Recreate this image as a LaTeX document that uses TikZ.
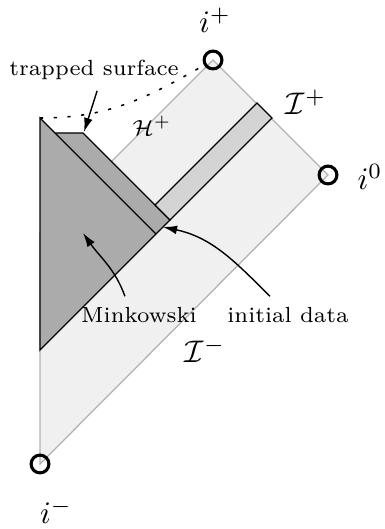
\documentclass[tikz,border=0pt]{standalone}
\usepackage{amsmath,amssymb}
\usepackage{tikz}
\usetikzlibrary{arrows.meta,positioning,backgrounds}

\begin{document}
\begin{tikzpicture}[x=0.32pt,y=0.32pt]
  % Styles for boundary points, regions and pointers
  \tikzset{bpoint/.style={draw=black, circle, line width=1pt, minimum size=5.7pt, inner sep=0pt}}
  \tikzset{exterior/.style={fill=black!6, draw=black!30, line width=0.4pt}}
  \tikzset{minkregion/.style={fill=black!33, draw=black, line width=0.4pt}}
  \tikzset{datastrip/.style={fill=black!17, draw=black, line width=0.4pt}}
  \tikzset{pointer/.style={-{Latex[length=4.5pt,width=2.8pt]}, line width=0.45pt}}
  \useasboundingbox (0,0) rectangle (385,529);

  % Corners
  \coordinate (hleft) at (40,296);
  \coordinate (mtop) at (40,411);
  \coordinate (sinner) at (55,396);
  \coordinate (souter) at (83,396);
  \coordinate (dcorner) at (170,309);
  \coordinate (mbottom) at (40,179);
  \coordinate (iend) at (156,295);
  \coordinate (lstrip) at (155,324);
  \coordinate (tstrip) at (257,426);
  \coordinate (rstrip) at (272,411);

  % i^-, i^0, i^+
  \node[bpoint] (iminus) at (40,65) {};
  \node[bpoint] (izero) at (328,354) {};
  \node[bpoint] (iplus) at (213,469) {};

  \begin{scope}[on background layer]
    \filldraw[exterior] (iminus.center) -- (izero.center) -- (iplus.center) -- (hleft) -- cycle;
  \end{scope}

  % Minkowski region with trapped surface strip
  \filldraw[minkregion] (mtop) -- (sinner) -- (souter) -- (dcorner) -- (mbottom) -- cycle;
  \draw[line width=0.4pt] (sinner) -- (iend);

  % initial data
  \filldraw[datastrip] (lstrip) -- (tstrip) -- (rstrip) -- (dcorner) -- cycle;

  % dotted curve
  \draw[dash pattern=on 1pt off 3.4pt, line width=0.5pt] (mtop) to[out=0,in=-150] (iplus);

  % Labels
  \node (lplus) at (215,509) {$i^+$};
  \node (lzero) at (370,352) {$i^0$};
  \node (lminus) at (56,18) {$i^-$};
  \node (scriplus) at (306,427) {$\mathcal{I}^+$};
  \node (scriminus) at (205,179) {$\mathcal{I}^-$};
  \node[font=\scriptsize] (horplus) at (152,403) {$\mathcal{H}^+$};

  \node[font=\scriptsize] (trap) at (94,459) {trapped surface};
  \node[font=\scriptsize] (mink) at (139,214) {Minkowski};
  \node[font=\scriptsize] (init) at (288,214) {initial data};

  % Pointers
  \coordinate (tsurf) at (84,397);
  \coordinate (minkpt) at (83,296);
  \coordinate (initpt) at (163,302);
  \draw[pointer] ([xshift=1pt]trap.south) -- (tsurf);
  \draw[pointer] ([xshift=-4.5pt]mink.north) to[out=110,in=-55] (minkpt);
  \draw[pointer] ([xshift=-5.8pt]init.north) to[out=135,in=-12] (initpt);
\end{tikzpicture}
\end{document}
